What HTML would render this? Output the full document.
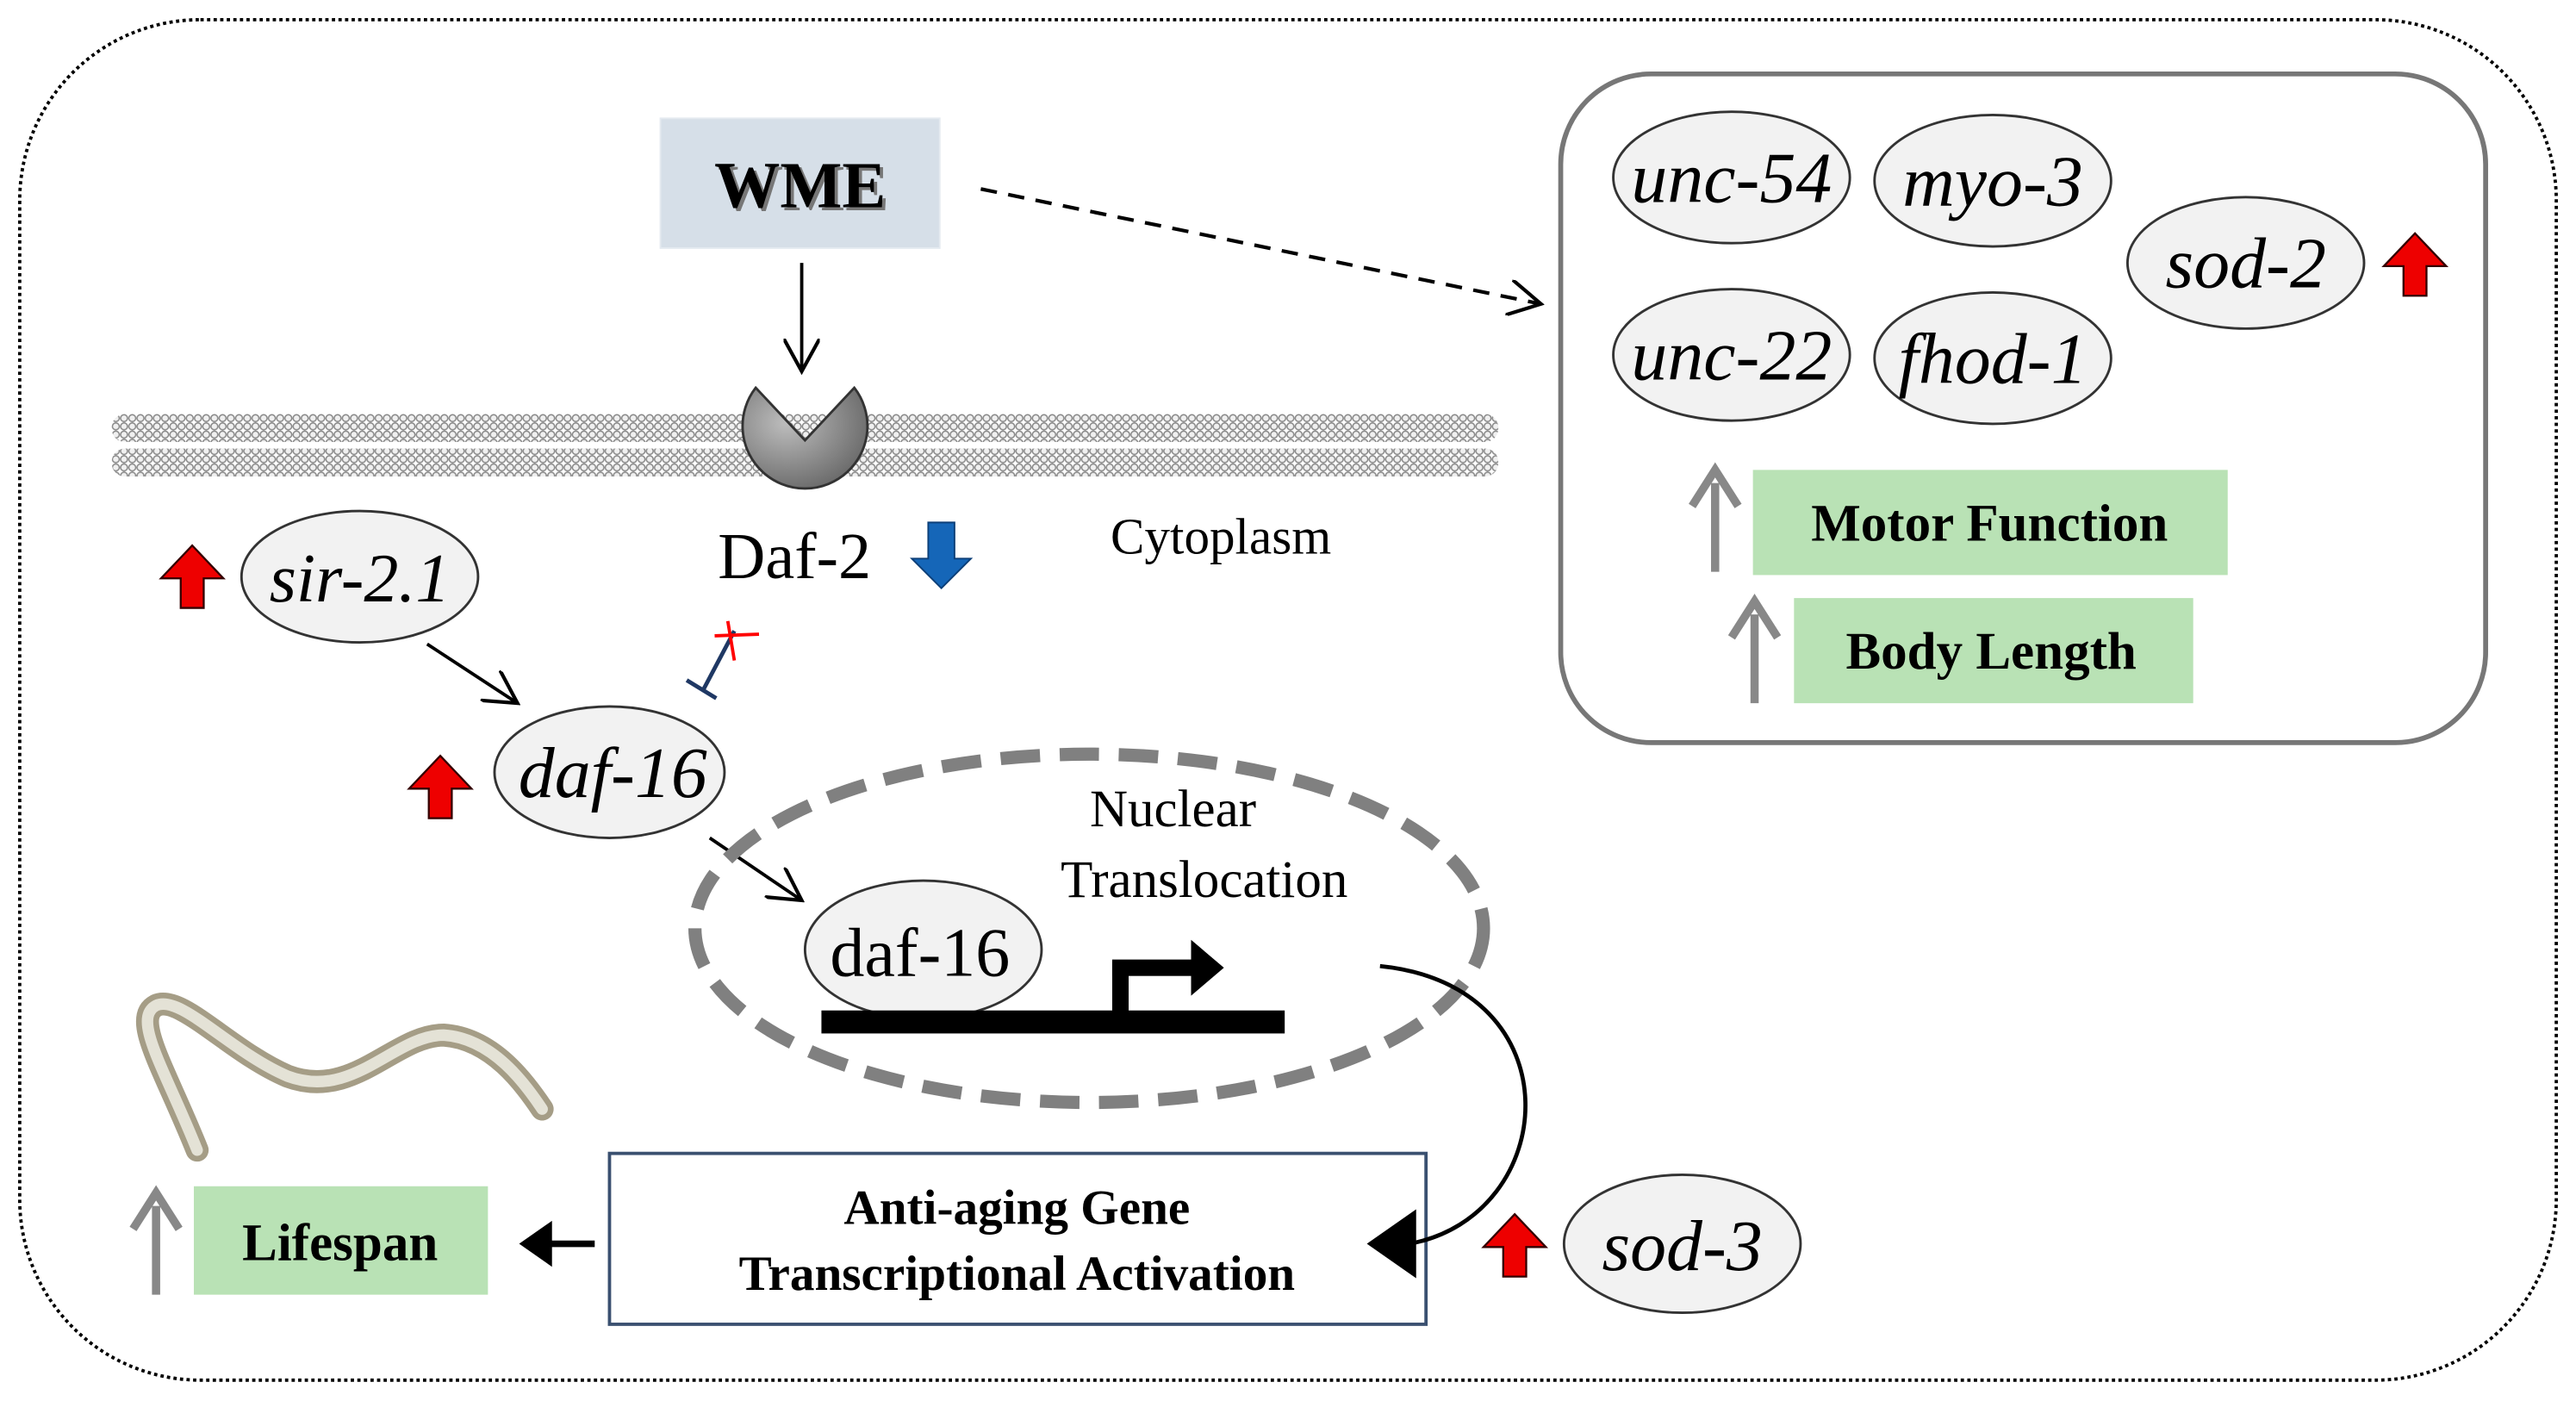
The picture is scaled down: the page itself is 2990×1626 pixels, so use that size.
<!DOCTYPE html>
<html><head><meta charset="utf-8"><style>
html,body{margin:0;padding:0;background:#fff}
svg{display:block}
text{font-family:"Liberation Serif",serif}
</style></head><body>
<svg width="2990" height="1626" viewBox="0 0 1568 852.7" xmlns="http://www.w3.org/2000/svg">
<defs>
<pattern id="lip" x="68" y="252" width="5" height="5" patternUnits="userSpaceOnUse">
<circle cx="2.5" cy="2.5" r="2.1" fill="#f0f0f0" stroke="#888" stroke-width="0.8"/>
</pattern>
<radialGradient id="rg" cx="0.35" cy="0.35" r="0.8"><stop offset="0" stop-color="#bdbdbd"/><stop offset="1" stop-color="#5e5e5e"/></radialGradient>
<marker id="oa2" markerWidth="22" markerHeight="22" refX="20" refY="11" orient="auto" markerUnits="userSpaceOnUse"><path d="M0,0 L20,11 L0,22" fill="none" stroke="#000" stroke-width="2.2"/></marker>
</defs>
<rect x="12" y="12" width="1544" height="828" rx="110" fill="none" stroke="#000" stroke-width="2" stroke-dasharray="2 2"/>
<!-- WME -->
<rect x="402" y="72" width="170" height="79" fill="#d6dfe8" stroke="#e4eaf0"/>
<text x="489" y="128" font-size="40" font-weight="bold" text-anchor="middle" fill="#777">WME</text>
<text x="487" y="126" font-size="40" font-weight="bold" text-anchor="middle">WME</text>
<line x1="597" y1="115" x2="938" y2="185" stroke="#000" stroke-width="2.2" stroke-dasharray="10 7" marker-end="url(#oa2)"/>
<line x1="488" y1="160" x2="488" y2="226" stroke="#000" stroke-width="2" marker-end="url(#oa2)"/>
<!-- membrane -->
<rect x="68" y="252" width="844" height="17" rx="8" fill="url(#lip)"/>
<rect x="68" y="273" width="844" height="17" rx="8" fill="url(#lip)"/>
<path d="M460,236 L490,268 L520,236 A38,38 0 1 1 460,236 Z" fill="url(#rg)" stroke="#333" stroke-width="1.5"/>
<text x="437" y="352" font-size="40">Daf-2</text>
<path d="M565,318 h16 v22 h10 l-18,18 l-18,-18 h10 z" fill="#1566b8" stroke="#0c3f78" stroke-width="1"/>
<text x="676" y="337" font-size="31">Cytoplasm</text>
<!-- sir-2.1 -->
<ellipse cx="219" cy="351" rx="72" ry="40" fill="#f2f2f2" stroke="#333" stroke-width="1.5"/>
<text x="219" y="366" font-size="42" font-style="italic" text-anchor="middle">sir-2.1</text>
<path d="M110,370 v-18 h-12 l19,-20 l19,20 h-12 v18 z" fill="#e00" stroke="#300" stroke-width="1.2"/>
<line x1="260" y1="392" x2="315" y2="428" stroke="#000" stroke-width="2" marker-end="url(#oa2)"/>
<line x1="447" y1="384" x2="428" y2="420" stroke="#1f3864" stroke-width="2.5"/>
<line x1="418" y1="414" x2="436" y2="425" stroke="#1f3864" stroke-width="2.5"/>
<line x1="435" y1="387" x2="462" y2="386" stroke="#f00" stroke-width="2"/>
<line x1="443" y1="378" x2="447" y2="402" stroke="#f00" stroke-width="2"/>
<!-- daf-16 -->
<ellipse cx="371" cy="470" rx="70" ry="40" fill="#f2f2f2" stroke="#333" stroke-width="1.5"/>
<text x="373" y="485" font-size="44" font-style="italic" text-anchor="middle">daf-16</text>
<path d="M261,498 v-18 h-12 l19,-20 l19,20 h-12 v18 z" fill="#e00" stroke="#300" stroke-width="1.2"/>
<line x1="432" y1="510" x2="488" y2="548" stroke="#000" stroke-width="2" marker-end="url(#oa2)"/>
<!-- nucleus -->
<ellipse cx="663" cy="565" rx="240" ry="106" fill="none" stroke="#808080" stroke-width="8" stroke-dasharray="24 12"/>
<text x="714" y="503" font-size="32" text-anchor="middle">Nuclear</text>
<text x="733" y="546" font-size="32" text-anchor="middle">Translocation</text>
<ellipse cx="562" cy="578" rx="72" ry="42" fill="#f2f2f2" stroke="#333" stroke-width="1.5"/>
<text x="560" y="594" font-size="42" text-anchor="middle">daf-16</text>
<rect x="500" y="615" width="282" height="14" fill="#000"/>
<rect x="677" y="585" width="10" height="32" fill="#000"/>
<rect x="677" y="584" width="50" height="10" fill="#000"/>
<path d="M725,572 L745,589 L725,606 Z" fill="#000"/>
<!-- anti-aging box -->
<rect x="371" y="702" width="497" height="104" fill="#fff" stroke="#3a5070" stroke-width="2"/>
<text x="619" y="745" font-size="30" font-weight="bold" text-anchor="middle">Anti-aging Gene</text>
<text x="619" y="785" font-size="30" font-weight="bold" text-anchor="middle">Transcriptional  Activation</text>
<path d="M840,588 C960,600 950,740 858,757" fill="none" stroke="#000" stroke-width="2.5"/>
<path d="M832,757 L862,736 L862,778 Z" fill="#000"/>
<rect x="118" y="722" width="179" height="66" fill="#b9e2b5"/>
<text x="207" y="767" font-size="32" font-weight="bold" text-anchor="middle">Lifespan</text>
<line x1="362" y1="757" x2="335" y2="757" stroke="#000" stroke-width="4"/>
<path d="M316,757 L336,743 L336,771 Z" fill="#000"/>
<line x1="95" y1="788" x2="95" y2="734" stroke="#888" stroke-width="5"/>
<path d="M81,748 L95,726 L109,748" fill="none" stroke="#888" stroke-width="5"/>
<ellipse cx="1024" cy="757" rx="72" ry="42" fill="#f2f2f2" stroke="#333" stroke-width="1.5"/>
<text x="1024" y="773" font-size="44" font-style="italic" text-anchor="middle">sod-3</text>
<path d="M915,777 v-18 h-12 l19,-20 l19,20 h-12 v18 z" fill="#e00" stroke="#300" stroke-width="1.2"/>
<!-- worm -->
<path d="M120,700 C100,650 80,620 95,612 C110,605 140,640 175,655 C215,670 240,630 270,630 C300,632 320,660 330,675" fill="none" stroke="#a59d86" stroke-width="14" stroke-linecap="round"/>
<path d="M120,700 C100,650 80,620 95,612 C110,605 140,640 175,655 C215,670 240,630 270,630 C300,632 320,660 330,675" fill="none" stroke="#e4e2d6" stroke-width="7" stroke-linecap="round"/>
<!-- right box -->
<rect x="950" y="45" width="563" height="407" rx="55" fill="none" stroke="#777" stroke-width="3"/>
<g font-size="44" font-style="italic" text-anchor="middle">
<ellipse cx="1054" cy="108" rx="72" ry="40" fill="#f2f2f2" stroke="#333" stroke-width="1.5"/><text x="1054" y="123">unc-54</text>
<ellipse cx="1213" cy="110" rx="72" ry="40" fill="#f2f2f2" stroke="#333" stroke-width="1.5"/><text x="1213" y="125">myo-3</text>
<ellipse cx="1367" cy="160" rx="72" ry="40" fill="#f2f2f2" stroke="#333" stroke-width="1.5"/><text x="1367" y="175">sod-2</text>
<ellipse cx="1054" cy="216" rx="72" ry="40" fill="#f2f2f2" stroke="#333" stroke-width="1.5"/><text x="1054" y="231">unc-22</text>
<ellipse cx="1213" cy="218" rx="72" ry="40" fill="#f2f2f2" stroke="#333" stroke-width="1.5"/><text x="1213" y="233">fhod-1</text>
</g>
<path d="M1463,180 v-18 h-12 l19,-20 l19,20 h-12 v18 z" fill="#e00" stroke="#300" stroke-width="1.2"/>
<rect x="1067" y="286" width="289" height="64" fill="#b9e2b5"/>
<text x="1211" y="329" font-size="32" font-weight="bold" text-anchor="middle">Motor Function</text>
<rect x="1092" y="364" width="243" height="64" fill="#b9e2b5"/>
<text x="1212" y="407" font-size="32" font-weight="bold" text-anchor="middle">Body Length</text>
<line x1="1044" y1="348" x2="1044" y2="294" stroke="#888" stroke-width="5"/>
<path d="M1030,308 L1044,286 L1058,308" fill="none" stroke="#888" stroke-width="5"/>
<line x1="1068" y1="428" x2="1068" y2="374" stroke="#888" stroke-width="5"/>
<path d="M1054,388 L1068,366 L1082,388" fill="none" stroke="#888" stroke-width="5"/>
</svg>
</body></html>
